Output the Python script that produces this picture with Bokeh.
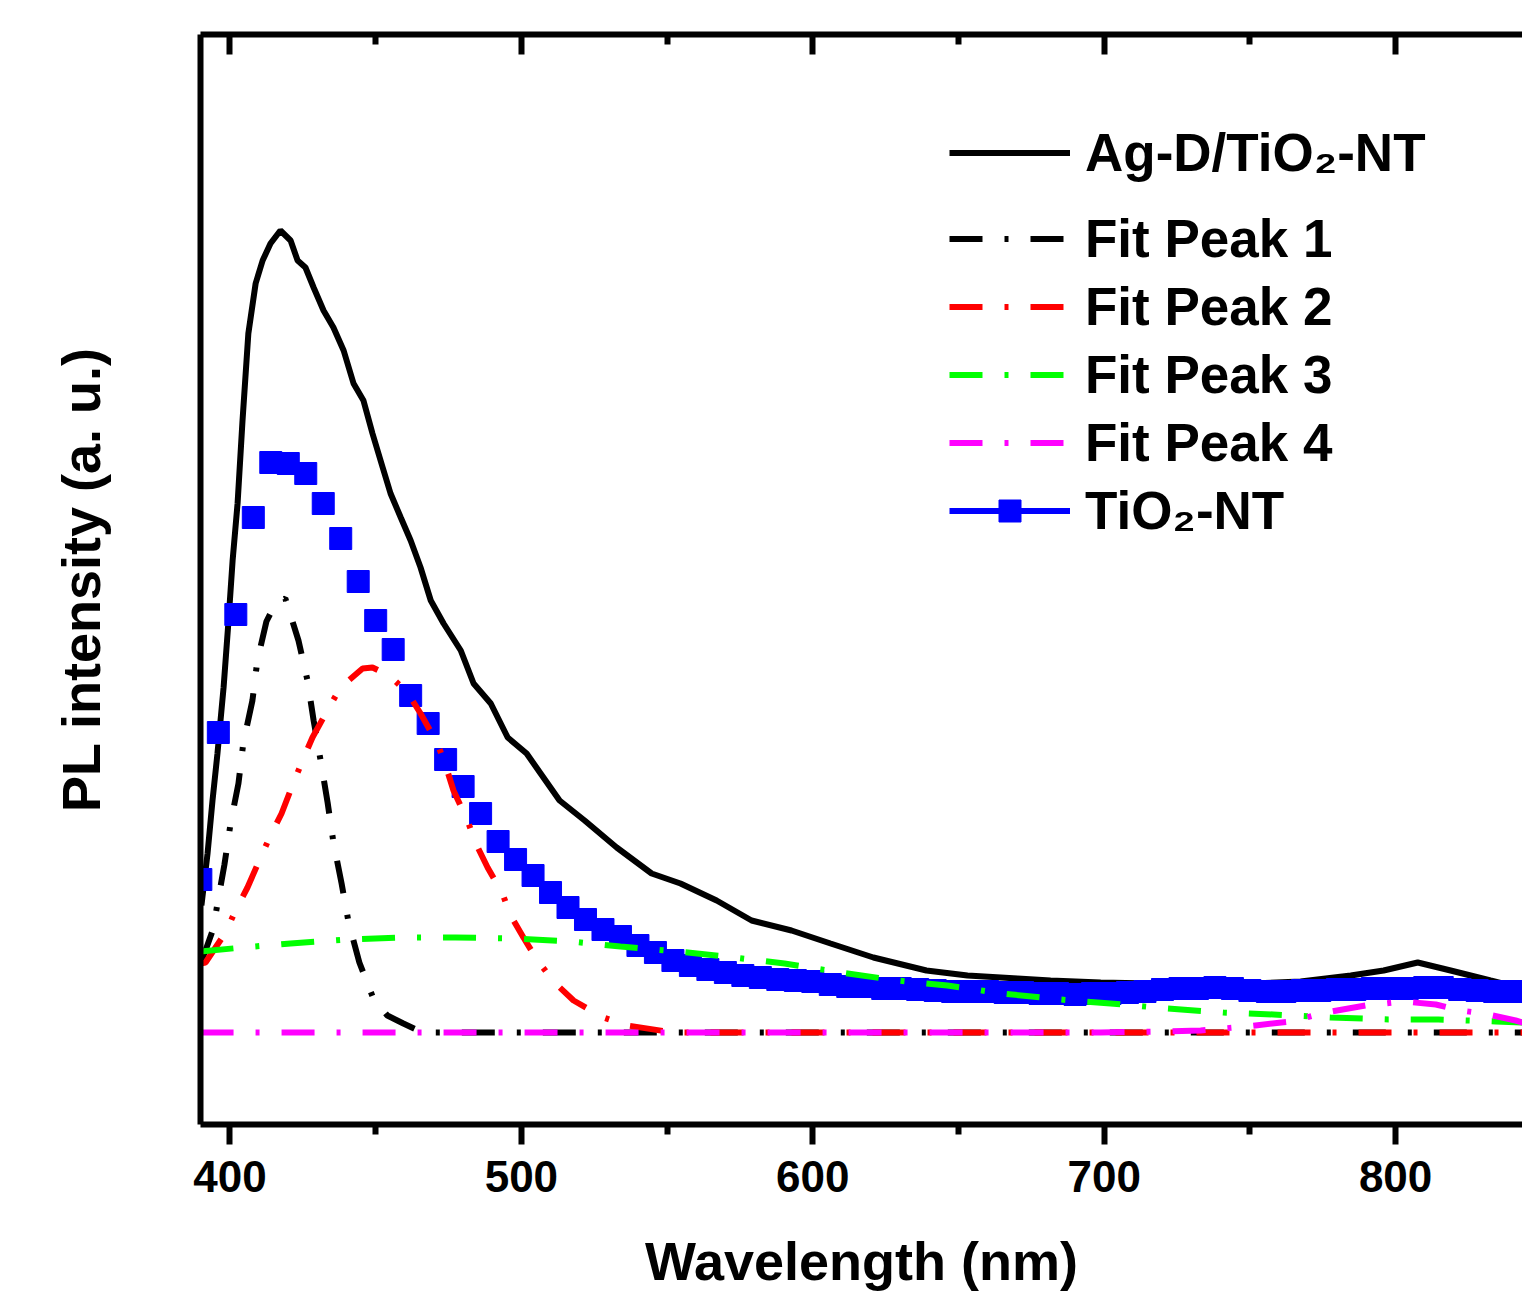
from bokeh.plotting import figure
from bokeh.models import (Range1d, LinearAxis, FixedTicker, Legend, LegendItem,
                          CustomLabelingPolicy)
from bokeh.embed import file_html
from bokeh.resources import INLINE

# ---------------- data ----------------
# Ag-D/TiO2-NT measured PL spectrum
ag_wl = [390.2, 392.3, 394.0, 395.7, 397.8, 399.5, 400.9, 402.6, 404.3, 406.3,
         408.8, 411.2, 413.9, 417.3, 420.8, 423.2, 425.9, 428.7, 432.1, 435.5,
         439.0, 442.4, 445.8, 448.9, 452.4, 455.1, 458.6, 462.0, 465.4, 468.9,
         473.3, 479.2, 483.6, 489.5, 495.3, 501.8, 506.6, 513.1, 521.7, 532.7,
         544.7, 554.6, 567.0, 579.0, 592.7, 606.1, 620.8, 639.0, 653.1, 670.3,
         681.6, 698.8, 715.9, 733.1, 750.2, 767.4, 784.6, 795.9, 807.6, 818.9,
         832.6, 843.6]
ag_int = [127, 179, 232, 279, 345, 412, 472, 529, 612, 699,
          749, 772, 789, 802, 792, 772, 765, 745, 722, 705,
          682, 649, 632, 599, 565, 539, 515, 492, 465, 432,
          409, 382, 349, 329, 295, 279, 259, 232, 212, 185,
          159, 149, 132, 112, 102, 89, 75, 62, 57, 54,
          52, 50, 49, 49, 49, 51, 57, 62, 70, 62,
          52, 44]

# TiO2-NT measured PL spectrum (square markers)
ti_wl = [390, 396, 402, 408, 414, 420, 426, 432, 438, 444,
         450, 456, 462, 468, 474, 480, 486, 492, 498, 504,
         510, 516, 522, 528, 534, 540, 546, 552, 558, 564,
         570, 576, 582, 588, 594, 600, 606, 612, 618, 624,
         630, 636, 642, 648, 654, 660, 666, 672, 678, 684,
         690, 696, 702, 708, 714, 720, 726, 732, 738, 744,
         750, 756, 762, 768, 774, 780, 786, 792, 798, 804,
         810, 816, 822, 828, 834, 840]
ti_int = [153, 300, 418, 515, 570, 569, 559, 529, 494, 451,
          412, 383, 337, 309, 273, 246, 219, 191, 173, 157,
          140, 125, 113, 103, 96, 87, 80, 72, 67, 63,
          60, 57, 55, 53, 52, 51, 48, 46, 46, 44,
          44, 43, 42, 41, 41, 41, 40, 40, 39, 39,
          38, 39, 39, 40, 41, 43, 44, 44, 45, 44,
          42, 41, 41, 42, 42, 43, 43, 44, 44, 44,
          45, 45, 43, 42, 41, 41]

# Fitted Gaussian components
p1_wl = [389.9, 391.6, 394.3, 395.7, 398.1, 400.2, 402.9, 404.6, 407.7, 409.4,
         412.5, 415.6, 419.0, 423.5, 426.6, 428.7, 431.1, 433.5, 435.5, 438.3,
         440.7, 444.4, 449.2, 454.0, 459.5, 465.4, 470.0, 600.0, 700.0, 800.0, 843.6]
p1_int = [69, 82, 104, 129, 168, 209, 249, 290, 332, 372,
          411, 429, 434, 392, 352, 312, 272, 230, 190, 149,
          110, 70, 34, 17, 9, 1, 0, 0, 0, 0, 0]

p2_wl = [389.9, 391.6, 398.5, 401.9, 406.0, 410.5, 413.9, 417.7, 421.8, 424.9,
         428.3, 433.8, 437.9, 445.5, 448.9, 454.7, 460.9, 465.4, 471.2, 474.0,
         476.7, 481.5, 484.2, 488.4, 493.5, 496.3, 500.7, 505.5, 511.7, 517.9,
         528.2, 536.4, 552.2, 600.0, 700.0, 800.0, 843.6]
p2_int = [69, 70, 100, 122, 145, 175, 197, 219, 250, 272,
          295, 324, 345, 364, 365, 357, 340, 319, 289, 267,
          242, 212, 190, 165, 139, 117, 95, 72, 49, 32,
          15, 7, 0, 0, 0, 0, 0]

p3_wl = [389.9, 404.3, 420.8, 440.3, 460.2, 477.4, 496.9, 516.8, 534.0, 553.6,
         573.1, 590.3, 609.5, 629.0, 646.2, 665.1, 685.0, 702.2, 721.7, 740.9,
         758.1, 777.7, 797.6, 814.7, 834.3, 843.6]
p3_int = [81, 85, 89, 93, 95, 95, 94, 91, 86, 81,
          75, 69, 60, 52, 47, 39, 33, 29, 24, 20,
          18, 15, 13, 13, 11, 10]

p4_wl = [389.9, 500.0, 600.0, 698.8, 719.4, 733.1, 748.6, 764.0, 776.0, 789.7,
         802.8, 813.8, 822.3, 830.2, 841.2, 843.6]
p4_int = [0, 0, 0, 0, 1, 2, 6, 11, 20, 27,
          31, 28, 22, 19, 12, 10]

x_ticks = [400, 500, 600, 700, 800]
x_minor = [450, 550, 650, 750, 850]
x_title = "Wavelength (nm)"
y_title = "PL intensity (a. u.)"
labels = ["Ag-D/TiO\u2082-NT", "Fit Peak 1", "Fit Peak 2", "Fit Peak 3",
          "Fit Peak 4", "TiO\u2082-NT"]

# ---------------- figure ----------------
FONT = "Liberation Sans"
p = figure(width=1522, height=1294, output_backend="svg", toolbar_location=None,
           x_range=Range1d(389.88, 843.55), y_range=Range1d(-92, 998),
           min_border_left=200, min_border_right=0, min_border_top=34,
           min_border_bottom=170)
p.outline_line_color = None
p.grid.visible = False
p.background_fill_color = "white"
p.border_fill_color = "white"

xa = p.xaxis[0]
xa.ticker = FixedTicker(ticks=x_ticks, minor_ticks=x_minor)
xa.axis_line_width = 6
xa.major_tick_line_width = 6
xa.minor_tick_line_width = 6
xa.major_tick_out = 20
xa.major_tick_in = 0
xa.minor_tick_out = 10
xa.minor_tick_in = 0
xa.major_label_text_font = FONT
xa.major_label_text_font_style = "bold"
xa.major_label_text_font_size = "44px"
xa.major_label_text_color = "black"
xa.major_label_standoff = 16
xa.axis_label = x_title
xa.axis_label_text_font = FONT
xa.axis_label_text_font_style = "bold"
xa.axis_label_text_font_size = "54px"
xa.axis_label_text_color = "black"
xa.axis_label_standoff = 36

ya = p.yaxis[0]
ya.ticker = FixedTicker(ticks=[])
ya.axis_line_width = 6
ya.major_tick_out = 0
ya.major_tick_in = 0
ya.minor_tick_out = 0
ya.minor_tick_in = 0
ya.major_label_policy = CustomLabelingPolicy(code="for (const i of indices) indices.unset(i)")
ya.axis_label = y_title
ya.axis_label_text_font = FONT
ya.axis_label_text_font_style = "bold"
ya.axis_label_text_font_size = "54px"
ya.axis_label_text_color = "black"
ya.axis_label_standoff = 90

top = LinearAxis(ticker=FixedTicker(ticks=x_ticks, minor_ticks=x_minor))
top.axis_line_width = 6
top.major_tick_line_width = 6
top.minor_tick_line_width = 6
top.major_tick_in = 20
top.major_tick_out = 0
top.minor_tick_in = 10
top.minor_tick_out = 0
top.major_label_policy = CustomLabelingPolicy(code="for (const i of indices) indices.unset(i)")
top.major_label_standoff = 0
p.add_layout(top, "above")

DASH = "33 22 4 22"
r_ag = p.line(ag_wl, ag_int, line_color="black", line_width=6)
# the TiO2-NT series is drawn as squares only; its connecting line is shown
# in the legend key but kept muted (invisible) inside the plot
r_ti_key = p.line(ti_wl, ti_int, line_color="blue", line_width=6, muted_alpha=0)
r_ti_key.muted = True
r_ti_pts = p.scatter(ti_wl, ti_int, marker="square", size=22,
                     fill_color="blue", line_color="blue", line_width=1)
r_p1 = p.line(p1_wl, p1_int, line_color="black", line_width=6, line_dash=DASH)
r_p2 = p.line(p2_wl, p2_int, line_color="#FF0000", line_width=6, line_dash=DASH)
r_p3 = p.line(p3_wl, p3_int, line_color="#00FF00", line_width=6, line_dash=DASH)
r_p4 = p.line(p4_wl, p4_int, line_color="#FF00FF", line_width=6, line_dash=DASH)


def style(leg):
    leg.label_text_font = FONT
    leg.label_text_font_style = "bold"
    leg.label_text_font_size = "53px"
    leg.label_text_color = "black"
    leg.glyph_width = 121
    leg.glyph_height = 55
    leg.label_height = 55
    leg.label_standoff = 15
    leg.spacing = 7
    leg.padding = 0
    leg.margin = 0
    leg.border_line_color = None
    leg.background_fill_alpha = 0
    leg.inactive_fill_alpha = 0


leg_a = Legend(items=[LegendItem(label=labels[0], renderers=[r_ag])],
               location=(749, 941))
leg_b = Legend(items=[LegendItem(label=labels[1], renderers=[r_p1]),
                      LegendItem(label=labels[2], renderers=[r_p2]),
                      LegendItem(label=labels[3], renderers=[r_p3]),
                      LegendItem(label=labels[4], renderers=[r_p4]),
                      LegendItem(label=labels[5], renderers=[r_ti_key, r_ti_pts])],
               location=(749, 583))
style(leg_a)
style(leg_b)
p.add_layout(leg_a)
p.add_layout(leg_b)

open("out.html", "w").write(file_html(p, INLINE))
